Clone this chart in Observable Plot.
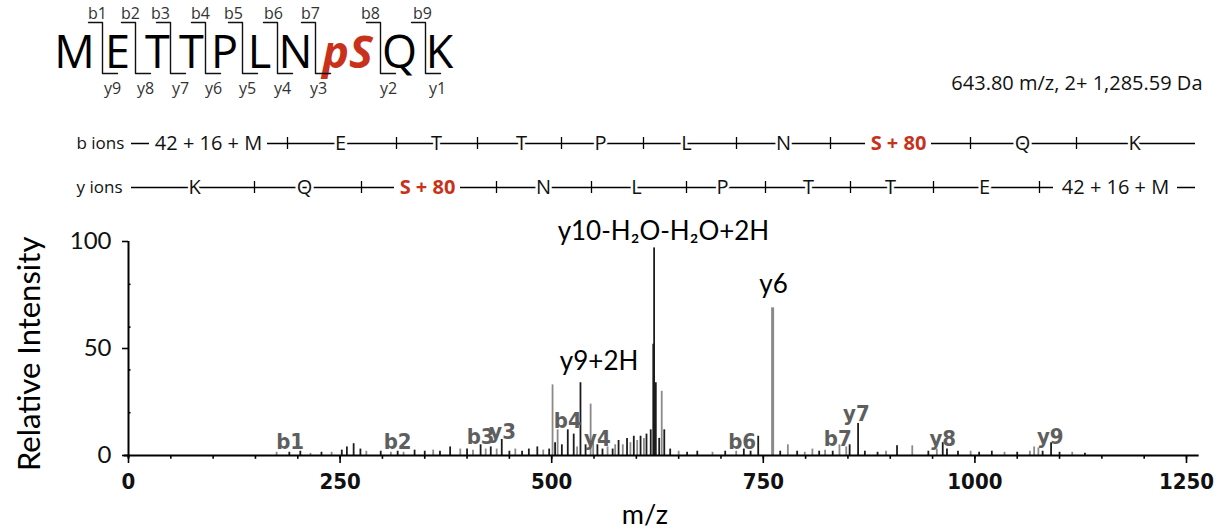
<!DOCTYPE html>
<html><head><meta charset="utf-8">
<script src="https://cdn.jsdelivr.net/npm/d3@7"></script>
<script src="https://cdn.jsdelivr.net/npm/@observablehq/plot@0.6"></script>
<style>
html,body{margin:0;padding:0;background:#fff;}
#chart{width:1217px;height:531px;position:relative;overflow:hidden;background:#fff;}
#chart svg{display:block;}
.condensed text{font-stretch:condensed;}
</style></head><body><div id="chart"></div>
<script>
// ---------------- data ----------------
const residues = ["M","E","T","T","P","L","N","pS","Q","K"];
const bFragments = ["b1","b2","b3","b4","b5","b6","b7","b8","b9"];
const yFragments = ["y9","y8","y7","y6","y5","y4","y3","y2","y1"];
const bIonRow = ["42 + 16 + M","E","T","T","P","L","N","S + 80","Q","K"];
const yIonRow = ["K","Q","S + 80","N","L","P","T","T","E","42 + 16 + M"];
const precursorText = "643.80 m/z, 2+ 1,285.59 Da";

const peakMz = [175,190,203,215,228,240,252,258,266,274,281,298,310,318,325,338,350,360,368,380,392,400,407,416,422,428,435,441,450,457,465,473,483,490,497,501,504,507,512,519,526,530,534,540,546,549,554,560,566,572,575,579,584,589,593,597,601,605,609,612,617,620,621,623,627,630,633,640,650,660,672,690,705,718,727,735,744,761,770,779,790,799,808,816,823,832,840,848,852,862,870,885,895,908,926,945,955,962,967,980,995,1005,1020,1035,1050,1065,1070,1075,1080,1090,1100,1115,1130];
const peakIntensity = [1.5,1.5,2,1,1.5,1.5,2.5,4,5.5,3,2,2,1.5,2,1.5,2.5,2,2.5,2,4,3,3,2.5,5,3,4,3,7.5,2,3,2,3,4,2.5,3,33,6,12,5,12,10,4,34,5,24,7,5,3,4,3,5,7,5,8,6,9,7,9,8,10,12,52,97,34,8,30,12,3,2,1.5,2,1.5,2,2,3,2,9,69,2,5,2,1.5,3,2,2.5,2,5,4,5,15,2,1.5,2,4.5,4.5,2,3,6,3,2,2,1.5,2,1.5,1.5,2,4,3.5,2,6,1.5,1.5,1];
const peakKind = ["light","dark","dark","light","dark","light","dark","dark","dark","dark","light","dark","light","dark","light","dark","dark","light","dark","dark","light","dark","light","dark","light","dark","light","dark","dark","light","dark","dark","dark","light","dark","light","dark","light","dark","dark","dark","light","dark","dark","light","light","dark","dark","light","dark","light","dark","light","dark","light","dark","light","dark","light","dark","dark","dark","dark","dark","dark","light","dark","dark","light","dark","dark","light","dark","light","dark","dark","dark","light","dark","light","dark","light","light","dark","light","dark","light","light","dark","dark","dark","dark","light","dark","light","dark","light","dark","dark","dark","light","dark","dark","light","dark","light","light","light","dark","dark","dark","light","dark"];

const ionNames = ["b1","b2","b3","y3","b4","y4","b6","b7","y7","y8","y9"];
const ionLabelMz = [191,318,416,442,519,554,725,838,860,962,1089];
const ionLabelInt = [3,3,5.5,7.5,13,4.5,3,4.5,16,4.5,5.5];

const keyNames = ["y10-H₂O-H₂O+2H","y6","y9+2H"];
const keyMz = [632,762,556];
const keyInt = [100.5,76,40];

const xTicks = [0,250,500,750,1000,1250];
const xMinor = d3.range(0,1251,50);
const yTicks = [0,50,100];
const yMinor = [20,40,60,80];

// ------------- header layout (pixels) -------------
const letterX = [74,117,157,191,224,259,295,347,399,439];
const cutX = [102,135,170,205,242,277,315,380,425];
const bLabelX = [97,130,160,200,233,273,310,370,422];
const yLabelX = [112,145,180,213,247,282,318,388,437];
const bRowX = [208,340,436,521,600,686,783,898,1022,1134];
const bTickX = [287,396,477,561,643,736,830,970,1076];
const yRowX = [194,304,427,543,636,722,808,890,984,1115];
const yTickX = [254,361,496,591,686,765,850,933,1039];
const bRowHalf = [59,0,0,0,0,0,0,33,0,0];
const yRowHalf = [0,0,33,0,0,0,0,0,0,62];
const RED = "#c8321b";

const idx10 = d3.range(10);
const idx9 = d3.range(9);
const bracketPts = idx9.flatMap(i => [
  {k:i, x:cutX[i]-14, y:22},{k:i, x:cutX[i], y:22},{k:i, x:cutX[i], y:73},{k:i, x:cutX[i]+15, y:73}
]);
const wideB = idx10.filter(i => bRowHalf[i] > 0);
const wideY = idx10.filter(i => yRowHalf[i] > 0);

const header = Plot.plot({
  width: 1217, height: 200, margin: 0,
  x: {type: "identity", axis: null},
  y: {type: "identity", axis: null},
  style: {fontFamily: "Open Sans", background: "white", overflow: "visible"},
  marks: [
    Plot.text(idx10.filter(i => i !== 7), {x: i => letterX[i], y: 67, text: i => residues[i], fontSize: 45, fill: "#000", lineAnchor: "bottom"}),
    Plot.text([7], {x: i => letterX[i], y: 67, text: i => residues[i], fontSize: 45, fill: RED, fontWeight: "bold", fontStyle: "italic", lineAnchor: "bottom"}),
    Plot.line(bracketPts, {x: "x", y: "y", z: "k", stroke: "#111", strokeWidth: 1.4}),
    Plot.text(idx9, {x: i => bLabelX[i], y: 18, text: i => bFragments[i], fontSize: 16, fill: "#333", lineAnchor: "bottom"}),
    Plot.text(idx9, {x: i => yLabelX[i], y: 93, text: i => yFragments[i], fontSize: 16, fill: "#333", lineAnchor: "bottom"}),
    Plot.text([precursorText], {x: 1202, y: 89, text: d => d, fontSize: 20, fill: "#111", textAnchor: "end", lineAnchor: "bottom"}),
    Plot.text(["b ions"], {x: 76, y: 143, text: d => d, fontSize: 17, fill: "#111", textAnchor: "start", lineAnchor: "middle"}),
    Plot.text(["y ions"], {x: 76, y: 187, text: d => d, fontSize: 17, fill: "#111", textAnchor: "start", lineAnchor: "middle"}),
    Plot.ruleY([143, 187], {y: d => d, x1: 131, x2: 1195, stroke: "#000", strokeWidth: 1.3}),
    Plot.ruleX(bTickX, {x: d => d, y1: 137, y2: 149, stroke: "#000", strokeWidth: 1.3}),
    Plot.ruleX(yTickX, {x: d => d, y1: 181, y2: 193, stroke: "#000", strokeWidth: 1.3}),
    Plot.rect(wideB, {x1: i => bRowX[i] - bRowHalf[i], x2: i => bRowX[i] + bRowHalf[i], y1: 134, y2: 152, fill: "white"}),
    Plot.rect(wideY, {x1: i => yRowX[i] - yRowHalf[i], x2: i => yRowX[i] + yRowHalf[i], y1: 178, y2: 196, fill: "white"}),
    Plot.text(idx10.filter(i => i !== 7), {x: i => bRowX[i], y: 143, text: i => bIonRow[i], fontSize: 20, fill: "#111", stroke: "white", strokeWidth: 5, lineAnchor: "middle"}),
    Plot.text([7], {x: i => bRowX[i], y: 143, text: i => bIonRow[i], fontSize: 20, fill: RED, fontWeight: "bold", stroke: "white", strokeWidth: 5, lineAnchor: "middle"}),
    Plot.text(idx10.filter(i => i !== 2), {x: i => yRowX[i], y: 187, text: i => yIonRow[i], fontSize: 20, fill: "#111", stroke: "white", strokeWidth: 5, lineAnchor: "middle"}),
    Plot.text([2], {x: i => yRowX[i], y: 187, text: i => yIonRow[i], fontSize: 20, fill: RED, fontWeight: "bold", stroke: "white", strokeWidth: 5, lineAnchor: "middle"})
  ]
});

// ------------- spectrum -------------
const peaks = peakMz.map((mz, i) => ({mz, intensity: peakIntensity[i], kind: peakKind[i]}));
const ions = ionNames.map((name, i) => ({name, mz: ionLabelMz[i], intensity: ionLabelInt[i]}));
const keys = keyNames.map((name, i) => ({name, mz: keyMz[i], intensity: keyInt[i]}));

const spectrum = Plot.plot({
  width: 1217, height: 331,
  marginLeft: 128, marginRight: 31, marginTop: 41, marginBottom: 76,
  x: {domain: [0, 1250]},
  y: {domain: [0, 100]},
  color: {domain: ["dark","light"], range: ["#1c1c1c","#8a8a8a"]},
  style: {fontFamily: "Lato", background: "white", overflow: "visible"},
  marks: [
    Plot.ruleX(peaks, {x: "mz", y1: 0, y2: "intensity", stroke: "kind", strokeWidth: d => d.intensity > 60 && d.kind === "light" ? 3 : 1.8}),
    Plot.ruleY([0], {x1: -5, x2: 1265, stroke: "#000", strokeWidth: 2}),
    Plot.ruleX([0], {y1: -1.5, y2: 100, stroke: "#000", strokeWidth: 2}),
    Plot.ruleX(xMinor, {x: d => d, y1: 0, y2: -1.8, stroke: "#000", strokeWidth: 1.6}),
    Plot.ruleY(yMinor, {y: d => d, x1: 0, x2: 3, stroke: "#000", strokeWidth: 1.6}),
    Plot.axisX(xTicks, {tickSize: 8, tickPadding: 10, strokeWidth: 1.6, fontSize: 22, fontWeight: "bold", fontFamily: "DejaVu Sans Condensed", className: "condensed", tickFormat: d3.format("d"), fill: "#111", label: null}),
    Plot.axisY(yTicks, {tickSize: 6, strokeWidth: 1.6, text: null, label: null}),
    Plot.text(yTicks, {x: 0, y: d => d, text: d => String(d), dx: -17, textAnchor: "end", lineAnchor: "middle", fontSize: 24, fontFamily: "Lato", fill: "#111"}),
    Plot.text(ions, {x: "mz", y: "intensity", text: "name", fontSize: 22, fontWeight: "bold", fontFamily: "DejaVu Sans Condensed", fill: "#5e5e5e", lineAnchor: "bottom"}),
    Plot.text(keys, {x: "mz", y: "intensity", text: "name", fontSize: 26, fontFamily: "Lato", fill: "#000", lineAnchor: "bottom"}),
    Plot.text(["Relative Intensity"], {x: -116, y: 47.5, text: d => d, rotate: -90, fontSize: 31, fontFamily: "Lato", fill: "#000"}),
    Plot.text(["m/z"], {x: 610, y: -28, text: d => d, fontSize: 27, fontFamily: "Lato", fill: "#000"})
  ]
});

const root = document.getElementById("chart");
root.appendChild(header);
root.appendChild(spectrum);
</script></body></html>
